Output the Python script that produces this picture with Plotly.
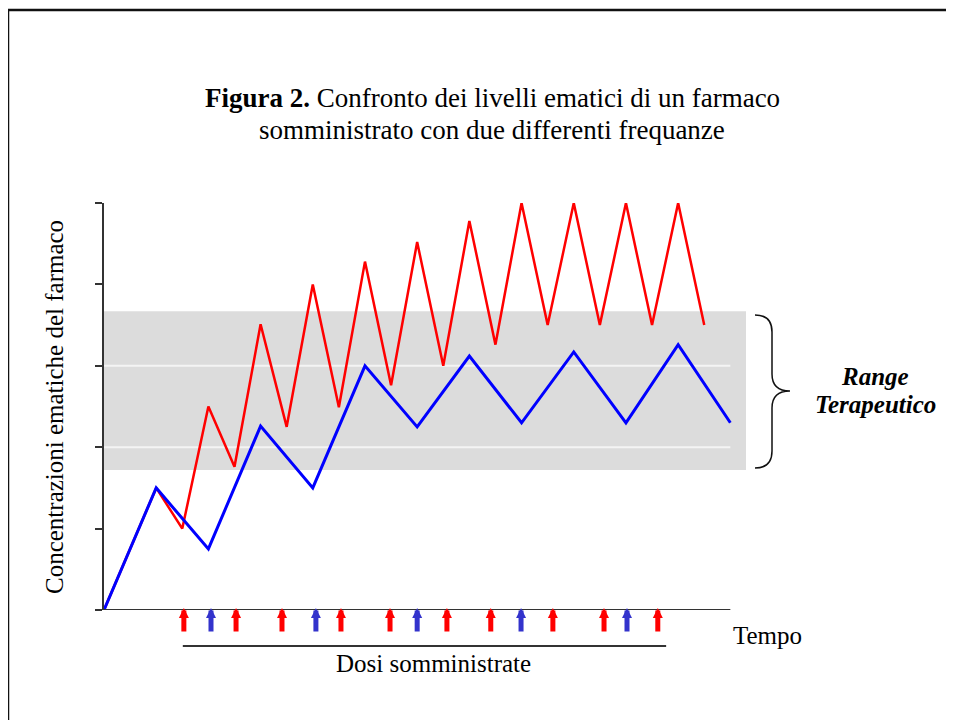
import plotly.graph_objects as go

# time in half-cycles of the slow schedule, concentration in tick units
t_red = [0, 1, 1.5, 2, 2.5, 3, 3.5, 4, 4.5, 5, 5.5, 6, 6.5, 7, 7.5, 8, 8.5, 9, 9.5, 10, 10.5, 11, 11.5]
c_red = [0, 1.5, 1.0, 2.5, 1.76, 3.51, 2.25, 4.0, 2.49, 4.28, 2.76, 4.52, 3.0, 4.78, 3.26, 5.0, 3.5,
         5.0, 3.5, 5.0, 3.5, 5.0, 3.5]
t_blue = [0, 1, 2, 3, 4, 5, 6, 7, 8, 9, 10, 11, 12]
c_blue = [0, 1.5, 0.75, 2.26, 1.5, 3.0, 2.25, 3.12, 2.3, 3.17, 2.3, 3.26, 2.3]

dose_red = [1.53, 2.53, 3.41, 4.54, 5.48, 6.57, 7.41, 8.6, 9.58, 10.61]
dose_blue = [2.05, 4.06, 6.0, 7.99, 10.02]

range_low, range_high = 1.72, 3.67
grid_levels = [2, 3]
y_ticks = [0, 1, 2, 3, 4, 5]
t_end = 12.0

FONT = "Liberation Serif"

# page is rendered with an 8px body margin, so figure coords = page coords - 8
OFF = 8
W, H = 954 - OFF, 720 - OFF
# plot area in page pixels
L, R, T, B = 104, 746, 203, 610


def px(x):
    return (x - L) / (R - L)


def py(y):
    return (B - y) / (B - T)


fig = go.Figure()

fig.add_trace(go.Scatter(x=t_red, y=c_red, mode="lines",
                         line=dict(color="#ff0000", width=2.5), hoverinfo="skip"))
fig.add_trace(go.Scatter(x=t_blue, y=c_blue, mode="lines",
                         line=dict(color="#0000ff", width=3), hoverinfo="skip"))

shapes = []
# therapeutic band + white grid lines
shapes.append(dict(type="rect", xref="x", yref="y", x0=0, x1=12.3, y0=range_low, y1=range_high,
                   fillcolor="#dcdcdc", line=dict(width=0), layer="below"))
for g in grid_levels:
    shapes.append(dict(type="line", xref="x", yref="y", x0=0, x1=t_end, y0=g, y1=g,
                       line=dict(color="#f4f4f4", width=2), layer="below"))
# time axis
shapes.append(dict(type="line", xref="x", yref="y", x0=0, x1=t_end, y0=0, y1=0,
                   line=dict(color="#333333", width=2)))
# line under the dose arrows
shapes.append(dict(type="line", xref="x", yref="paper", x0=dose_red[0] - 0.02, x1=10.77,
                   y0=py(646), y1=py(646), line=dict(color="#333333", width=2)))
# brace
brace = (f"M {px(755)},{py(315)} Q {px(772)},{py(315)} {px(772)},{py(332)} "
         f"L {px(772)},{py(374)} Q {px(772)},{py(391)} {px(790)},{py(391)} "
         f"Q {px(772)},{py(391)} {px(772)},{py(408)} L {px(772)},{py(451)} "
         f"Q {px(772)},{py(468)} {px(755)},{py(468)}")
shapes.append(dict(type="path", xref="paper", yref="paper", path=brace,
                   line=dict(color="#111111", width=1.5)))
# outer frame
shapes.append(dict(type="line", xref="paper", yref="paper", x0=px(8), x1=px(8), y0=py(10), y1=py(725),
                   line=dict(color="#111111", width=2.5)))
shapes.append(dict(type="line", xref="paper", yref="paper", x0=px(8), x1=px(950), y0=py(10), y1=py(10),
                   line=dict(color="#111111", width=2.5)))
shapes.append(dict(type="line", xref="paper", yref="paper", x0=px(950), x1=px(950), y0=py(10), y1=py(725),
                   line=dict(color="#111111", width=2.5)))

annotations = []
for t in dose_red:
    annotations.append(dict(x=t, y=0, xref="x", yref="y", ax=0, ay=25, text="", showarrow=True,
                            arrowhead=2, arrowwidth=5, arrowsize=0.4, arrowcolor="#ff0000", yshift=2))
for t in dose_blue:
    annotations.append(dict(x=t, y=0, xref="x", yref="y", ax=0, ay=25, text="", showarrow=True,
                            arrowhead=2, arrowwidth=5, arrowsize=0.4, arrowcolor="#3333cc", yshift=2))


def label(text, x, y, size=25, **kw):
    annotations.append(dict(text=text, x=px(x), y=py(y), xref="paper", yref="paper",
                            showarrow=False, xanchor="center", yanchor="middle",
                            font=dict(family=FONT, size=size, color="#000000"), **kw))


label("<b>Figura 2.</b> Confronto dei livelli ematici di un farmaco", 492, 98, size=27)
label("somministrato con due differenti frequanze", 492, 130, size=27)
label("Concentrazioni ematiche del farmaco", 54, 407, textangle=-90)
label("Tempo", 768, 635)
label("Dosi somministrate", 433, 663)
label("<b><i>Range</i></b>", 875, 376)
label("<b><i>Terapeutico</i></b>", 875, 404)

fig.update_layout(
    width=W, height=H, autosize=False,
    margin=dict(l=L - OFF, r=W - (R - OFF), t=T - OFF, b=H - (B - OFF), pad=0),
    plot_bgcolor="white", paper_bgcolor="white",
    showlegend=False,
    shapes=shapes, annotations=annotations,
    xaxis=dict(range=[0, 12.3], showline=False, showgrid=False, zeroline=False,
               showticklabels=False, ticks="", fixedrange=True),
    yaxis=dict(range=[0, 5], tickvals=y_ticks, ticks="outside", ticklen=7, tickwidth=2,
               tickcolor="#333333", showline=True, linecolor="#333333", linewidth=2,
               showgrid=False, zeroline=False, showticklabels=False, fixedrange=True),
)

fig.write_html("out.html")
